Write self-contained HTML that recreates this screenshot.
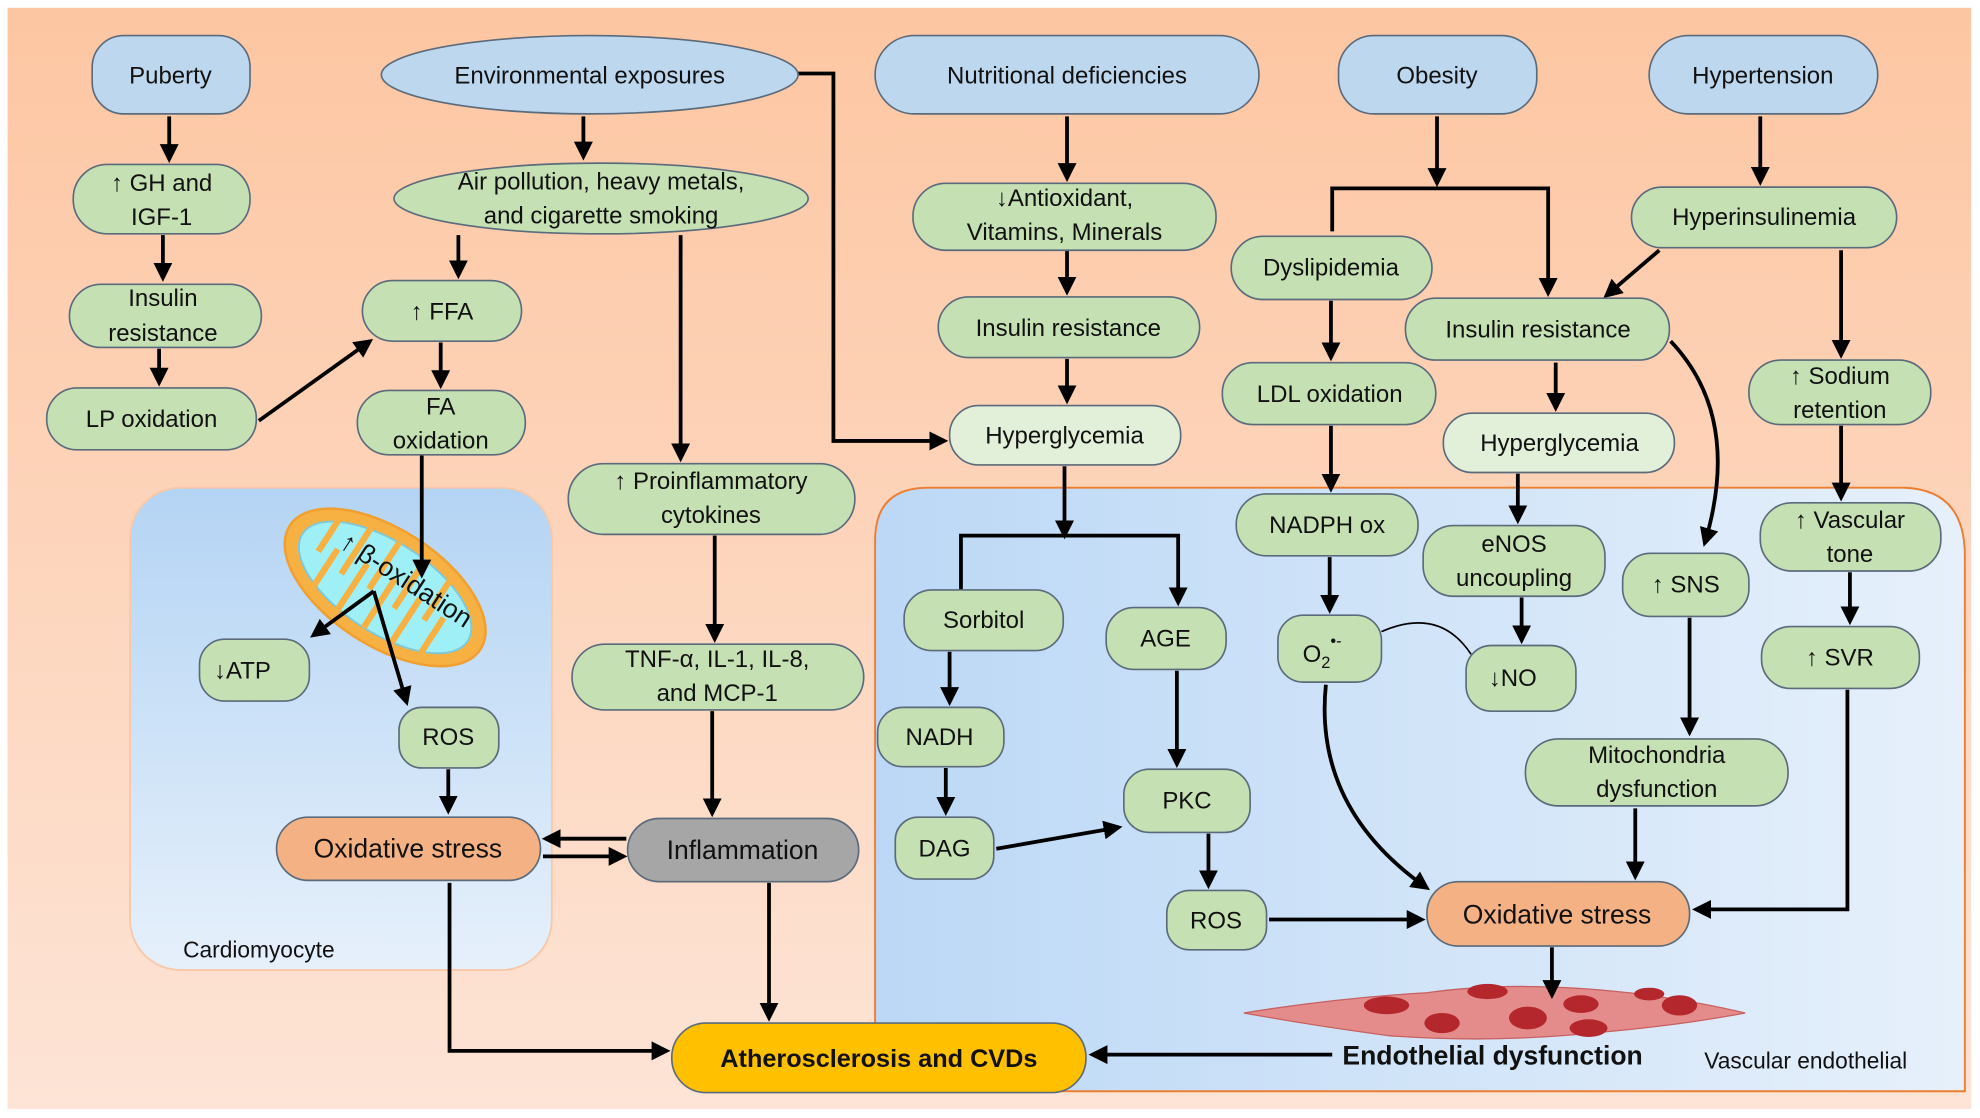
<!DOCTYPE html>
<html><head><meta charset="utf-8"><style>
html,body{margin:0;padding:0;background:#fff;}
svg{display:block;}
text{font-family:"Liberation Sans",sans-serif;font-size:19px;fill:#111;text-anchor:middle;}
.g{fill:#c5e0b3;stroke:#5b6b7b;stroke-width:1.3;}
.lg{fill:#e2efd9;stroke:#5b6b7b;stroke-width:1.3;}
.b{fill:#bdd7ee;stroke:#5b6b7b;stroke-width:1.3;}
.o{fill:#f4b183;stroke:#5b6b7b;stroke-width:1.3;}
.a{stroke:#000;stroke-width:3;fill:none;marker-end:url(#ah);}
.l{stroke:#000;stroke-width:3;fill:none;}
</style></head><body>
<svg width="1980" height="1118" viewBox="0 0 1568 885" xmlns="http://www.w3.org/2000/svg">
<defs>
<marker id="ah" markerWidth="5" markerHeight="5" refX="4" refY="2.5" orient="auto" markerUnits="strokeWidth"><path d="M0,0 L5,2.5 L0,5 Z" fill="#000"/></marker>
<linearGradient id="bg" x1="0" y1="0" x2="0" y2="1"><stop offset="0" stop-color="#fdc6a2"/><stop offset="1" stop-color="#fde4d6"/></linearGradient>
<linearGradient id="cell" x1="0" y1="0" x2="0" y2="1"><stop offset="0" stop-color="#b4d4f4"/><stop offset="1" stop-color="#e6f0fb"/></linearGradient>
<linearGradient id="vas" x1="0" y1="0" x2="1" y2="0"><stop offset="0" stop-color="#bcd8f6"/><stop offset="1" stop-color="#e6f0fb"/></linearGradient>
</defs>
<rect x="0" y="0" width="1568" height="885" fill="#fff"/>
<rect x="6" y="6" width="1555" height="872" fill="url(#bg)"/>

<!-- panels -->
<rect x="103" y="386" width="334" height="382" rx="40" fill="url(#cell)" stroke="#f8c8a8" stroke-width="1.5"/>
<text x="205" y="758" style="font-size:18px">Cardiomyocyte</text>
<path d="M735,386 H1505 Q1556,386 1556,440 V864 H693 V428 Q693,386 735,386 Z" fill="url(#vas)" stroke="#ed7d31" stroke-width="1.5"/>
<text x="1430" y="846" style="font-size:18px">Vascular endothelial</text>

<!-- mitochondrion -->
<g transform="translate(305,465) rotate(33)">
<ellipse cx="0" cy="0" rx="90" ry="46" fill="#f6b142" stroke="#f0a030" stroke-width="2"/>
<ellipse cx="0" cy="0" rx="78" ry="36" fill="#9ff0f6" stroke="#7fc8d8" stroke-width="1.5"/>
<path d="M-60,-30 V5 M-35,-36 V10 M-10,-36 V8 M15,-35 V10 M40,-32 V5 M-48,30 V-5 M-22,36 V-8 M3,36 V-10 M28,34 V-8 M52,28 V-5" stroke="#f6b142" stroke-width="5" fill="none"/>
</g>
<text x="318" y="465" transform="rotate(33 318 465)" style="font-size:21px">↑ β-oxidation</text>

<!-- endothelial cells -->
<path d="M985,802 Q1060,790 1130,786 Q1200,776 1290,786 Q1340,792 1382,802 Q1330,812 1260,818 Q1180,826 1100,820 Q1040,812 985,802 Z" fill="#e48c8c" stroke="#c86060" stroke-width="1"/>
<g fill="#b3272d">
<ellipse cx="1098" cy="796" rx="18" ry="7"/><ellipse cx="1142" cy="810" rx="14" ry="8"/><ellipse cx="1178" cy="785" rx="16" ry="6"/><ellipse cx="1210" cy="806" rx="15" ry="9"/><ellipse cx="1252" cy="795" rx="14" ry="7"/><ellipse cx="1258" cy="814" rx="15" ry="7"/><ellipse cx="1330" cy="796" rx="14" ry="8"/><ellipse cx="1306" cy="787" rx="12" ry="5"/>
</g>

<!-- connectors -->
<g>
<line class="a" x1="134" y1="92" x2="134" y2="126"/>
<line class="a" x1="129" y1="186" x2="129" y2="220"/>
<line class="a" x1="126" y1="276" x2="126" y2="303"/>
<line class="a" x1="205" y1="333" x2="293" y2="270"/>
<line class="a" x1="462" y1="92" x2="462" y2="124"/>
<line class="a" x1="363" y1="186" x2="363" y2="218"/>
<line class="a" x1="349" y1="271" x2="349" y2="305"/>
<line class="a" x1="334" y1="360" x2="334" y2="455"/>
<polyline class="a" points="296,468 248,503"/>
<polyline class="a" points="296,468 322,556"/>
<line class="a" x1="355" y1="609" x2="355" y2="642"/>
<line class="a" x1="539" y1="186" x2="539" y2="363"/>
<line class="a" x1="566" y1="424" x2="566" y2="506"/>
<line class="a" x1="564" y1="563" x2="564" y2="644"/>
<line class="a" x1="496" y1="664" x2="432" y2="664"/>
<line class="a" x1="430" y1="678" x2="494" y2="678"/>
<line class="a" x1="609" y1="699" x2="609" y2="806"/>
<polyline class="a" points="356,699 356,832 528,832"/>
<polyline class="a" points="632,58 660,58 660,349 748,349"/>
<line class="a" x1="845" y1="92" x2="845" y2="141"/>
<line class="a" x1="845" y1="198" x2="845" y2="231"/>
<line class="a" x1="845" y1="284" x2="845" y2="317"/>
<polyline class="a" points="843,369 843,424"/>
<polyline class="a" points="761,478 761,424 933,424 933,477"/>
<line class="a" x1="752" y1="516" x2="752" y2="556"/>
<line class="a" x1="749" y1="608" x2="749" y2="643"/>
<line class="a" x1="932" y1="531" x2="932" y2="605"/>
<line class="a" x1="789" y1="672" x2="886" y2="655"/>
<line class="a" x1="957" y1="660" x2="957" y2="701"/>
<line class="a" x1="1005" y1="728" x2="1126" y2="728"/>
<line class="a" x1="1138" y1="92" x2="1138" y2="145"/>
<polyline class="a" points="1055,183 1055,149 1226,149 1226,232"/>
<line class="a" x1="1054" y1="238" x2="1054" y2="283"/>
<line class="a" x1="1054" y1="337" x2="1054" y2="387"/>
<line class="a" x1="1053" y1="441" x2="1053" y2="483"/>
<line class="a" x1="1314" y1="198" x2="1272" y2="234"/>
<line class="a" x1="1232" y1="287" x2="1232" y2="323"/>
<line class="a" x1="1202" y1="375" x2="1202" y2="412"/>
<line class="a" x1="1205" y1="473" x2="1205" y2="507"/>
<path class="a" d="M1323,270 Q1380,330 1350,430"/>
<line class="a" x1="1394" y1="92" x2="1394" y2="144"/>
<line class="a" x1="1458" y1="198" x2="1458" y2="281"/>
<line class="a" x1="1458" y1="337" x2="1458" y2="394"/>
<line class="a" x1="1465" y1="453" x2="1465" y2="492"/>
<polyline class="a" points="1463,546 1463,720 1343,720"/>
<line class="a" x1="1338" y1="489" x2="1338" y2="580"/>
<line class="a" x1="1295" y1="640" x2="1295" y2="694"/>
<path class="a" d="M1050,542 Q1040,640 1130,703"/>
<path d="M1094,500 Q1140,480 1165,518" stroke="#000" stroke-width="1.3" fill="none"/>
<line class="a" x1="1229" y1="750" x2="1229" y2="788"/>
<line class="a" x1="1055" y1="835" x2="865" y2="835"/>
</g>

<!-- nodes -->
<rect class="b" x="73" y="28" width="125" height="62" rx="25"/><text x="135" y="66">Puberty</text>
<ellipse class="b" cx="467" cy="59" rx="165" ry="31"/><text x="467" y="66">Environmental  exposures</text>
<rect class="b" x="693" y="28" width="304" height="62" rx="31"/><text x="845" y="66">Nutritional  deficiencies</text>
<rect class="b" x="1060" y="28" width="157" height="62" rx="28"/><text x="1138" y="66">Obesity</text>
<rect class="b" x="1306" y="28" width="181" height="62" rx="31"/><text x="1396" y="66">Hypertension</text>

<rect class="g" x="58" y="130" width="140" height="55" rx="27"/><text x="128" y="151">↑ GH and</text><text x="128" y="178">IGF-1</text>
<ellipse class="g" cx="476" cy="157" rx="164" ry="28"/><text x="476" y="150">Air pollution, heavy metals,</text><text x="476" y="177">and cigarette smoking</text>
<rect class="g" x="55" y="225" width="152" height="50" rx="25"/><text x="129" y="242">Insulin</text><text x="129" y="270">resistance</text>
<rect class="g" x="287" y="222" width="126" height="48" rx="24"/><text x="350" y="253">↑ FFA</text>
<rect class="g" x="37" y="307" width="166" height="49" rx="24"/><text x="120" y="338">LP oxidation</text>
<rect class="g" x="283" y="309" width="133" height="51" rx="25"/><text x="349" y="328">FA</text><text x="349" y="355">oxidation</text>
<rect class="g" x="723" y="145" width="240" height="53" rx="26"/><text x="843" y="163">↓Antioxidant,</text><text x="843" y="190">Vitamins, Minerals</text>
<rect class="g" x="743" y="235" width="207" height="48" rx="24"/><text x="846" y="266">Insulin resistance</text>
<rect class="lg" x="752" y="321" width="183" height="47" rx="23"/><text x="843" y="351">Hyperglycemia</text>
<rect class="g" x="975" y="187" width="159" height="50" rx="25"/><text x="1054" y="218">Dyslipidemia</text>
<rect class="g" x="1113" y="236" width="209" height="49" rx="24"/><text x="1218" y="267">Insulin resistance</text>
<rect class="g" x="1292" y="148" width="210" height="48" rx="24"/><text x="1397" y="178">Hyperinsulinemia</text>
<rect class="g" x="968" y="287" width="169" height="49" rx="24"/><text x="1053" y="318">LDL oxidation</text>
<rect class="lg" x="1143" y="327" width="183" height="47" rx="23"/><text x="1235" y="357">Hyperglycemia</text>
<rect class="g" x="1385" y="285" width="144" height="51" rx="25"/><text x="1457" y="304">↑ Sodium</text><text x="1457" y="331">retention</text>
<rect class="g" x="450" y="367" width="227" height="56" rx="28"/><text x="563" y="387">↑ Proinflammatory</text><text x="563" y="414">cytokines</text>
<rect class="g" x="453" y="510" width="231" height="52" rx="26"/><text x="568" y="528">TNF-α, IL-1, IL-8,</text><text x="568" y="555">and MCP-1</text>
<rect class="g" x="716" y="467" width="126" height="48" rx="22"/><text x="779" y="497">Sorbitol</text>
<rect class="g" x="876" y="481" width="95" height="49" rx="22"/><text x="923" y="512">AGE</text>
<rect class="g" x="979" y="391" width="144" height="49" rx="24"/><text x="1051" y="422">NADPH ox</text>
<rect class="g" x="1127" y="416" width="144" height="56" rx="24"/><text x="1199" y="437">eNOS</text><text x="1199" y="464">uncoupling</text>
<rect class="g" x="1285" y="438" width="100" height="50" rx="22"/><text x="1335" y="469">↑ SNS</text>
<rect class="g" x="1394" y="398" width="143" height="54" rx="25"/><text x="1465" y="418">↑ Vascular</text><text x="1465" y="445">tone</text>
<rect class="g" x="1012" y="487" width="82" height="53" rx="20"/><text x="1047" y="524">O<tspan style="font-size:13px" dy="5">2</tspan><tspan style="font-size:13px" dy="-17">•-</tspan></text>
<rect class="g" x="1161" y="511" width="87" height="52" rx="20"/><text x="1198" y="543">↓NO</text>
<rect class="g" x="1395" y="496" width="125" height="49" rx="23"/><text x="1457" y="527">↑ SVR</text>
<rect class="g" x="158" y="506" width="87" height="49" rx="20"/><text x="192" y="537">↓ATP</text>
<rect class="g" x="316" y="560" width="79" height="48" rx="18"/><text x="355" y="590">ROS</text>
<rect class="g" x="695" y="560" width="100" height="47" rx="20"/><text x="744" y="590">NADH</text>
<rect class="g" x="890" y="609" width="100" height="50" rx="20"/><text x="940" y="640">PKC</text>
<rect class="g" x="709" y="647" width="78" height="49" rx="18"/><text x="748" y="678">DAG</text>
<rect class="g" x="924" y="705" width="79" height="47" rx="18"/><text x="963" y="735">ROS</text>
<rect class="g" x="1208" y="585" width="208" height="53" rx="26"/><text x="1312" y="604">Mitochondria</text><text x="1312" y="631">dysfunction</text>
<rect class="o" x="219" y="647" width="209" height="50" rx="25"/><text x="323" y="679" style="font-size:21px">Oxidative stress</text>
<rect x="497" y="648" width="183" height="50" rx="25" fill="#a6a6a6" stroke="#5b6b7b" stroke-width="1.3"/><text x="588" y="680" style="font-size:21px">Inflammation</text>
<rect class="o" x="1130" y="698" width="208" height="51" rx="25"/><text x="1233" y="731" style="font-size:21px">Oxidative stress</text>
<rect x="532" y="810" width="328" height="55" rx="27" fill="#ffc000" stroke="#5b6b7b" stroke-width="1.3"/><text x="696" y="845" style="font-size:20px;font-weight:bold">Atherosclerosis  and CVDs</text>
<text x="1182" y="843" style="font-size:21px;font-weight:bold">Endothelial  dysfunction</text>
</svg>
</body></html>
